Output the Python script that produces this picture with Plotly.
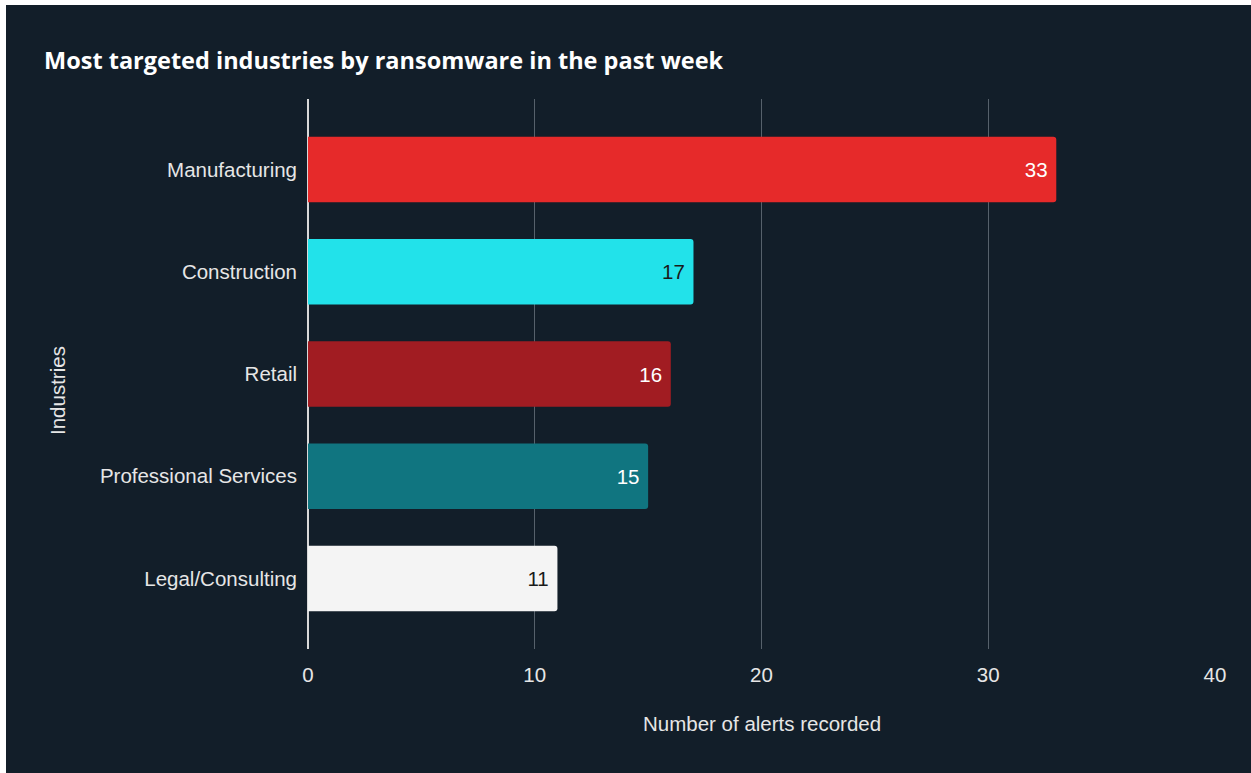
import plotly.graph_objects as go

industries = ["Manufacturing", "Construction", "Retail", "Professional Services", "Legal/Consulting"]
alerts = [33, 17, 16, 15, 11]
bar_colors = ["#E62A2A", "#22E2EA", "#A11C22", "#107580", "#F4F4F4"]
label_colors = ["#FFFFFF", "#1A1A1A", "#FFFFFF", "#FFFFFF", "#1A1A1A"]
x_ticks = [0, 10, 20, 30, 40]

W, H = 1251, 773
L, R, T, B = 308, 36, 99, 124
pw, ph = W - L - R, H - T - B
BG = "#121E29"
FS = 20.5

def px_x(p):
    return (p - L) / pw

def px_y(p):
    return (H - B - p) / ph

fig = go.Figure()
fig.add_trace(go.Bar(
    y=industries, x=alerts, orientation="h",
    marker=dict(color=bar_colors, line=dict(width=0)),
    width=0.64,
    text=[f"{v} " for v in alerts],
    textposition="inside", insidetextanchor="end",
    textfont=dict(color=label_colors, size=FS, family="Liberation Sans"),
    cliponaxis=False,
    hoverinfo="skip",
))

fig.update_layout(
    width=W, height=H,
    margin=dict(l=L, r=R, t=T, b=B, pad=0),
    paper_bgcolor="white", plot_bgcolor=BG,
    barcornerradius=3,
    showlegend=False,
    font=dict(family="Liberation Sans", color="#E6E6E6", size=FS),
    shapes=[dict(type="rect", xref="paper", yref="paper",
                 x0=px_x(6), x1=px_x(W + 2), y0=px_y(H + 2), y1=px_y(5),
                 fillcolor=BG, line=dict(width=0), layer="below")],
    annotations=[
        dict(text="<b>Most targeted industries by ransomware in the past week</b>",
             xref="paper", yref="paper", x=px_x(42), y=px_y(60),
             xanchor="left", yanchor="middle", showarrow=False,
             font=dict(family="Open Sans", size=23.5, color="#FFFFFF")),
        dict(text="Number of alerts recorded", xref="paper", yref="paper",
             x=0.5, y=px_y(724), xanchor="center", yanchor="middle", showarrow=False,
             font=dict(size=FS, color="#E6E6E6")),
        dict(text="Industries", xref="paper", yref="paper",
             x=px_x(57), y=px_y(391), textangle=-90,
             xanchor="center", yanchor="middle", showarrow=False,
             font=dict(size=FS, color="#E6E6E6")),
    ],
    xaxis=dict(range=[0, 40], tickvals=x_ticks, showgrid=True, gridcolor="#56616B",
               gridwidth=1, zeroline=True, zerolinecolor="#D8D8D8", zerolinewidth=1.5,
               showline=False, ticks="", ticklabelstandoff=11,
               tickfont=dict(size=FS, color="#E6E6E6")),
    yaxis=dict(type="category", categoryorder="array", categoryarray=industries,
               range=[4.69, -0.69], showgrid=False, zeroline=False, showline=False,
               ticks="", ticklabelstandoff=10,
               tickfont=dict(size=FS, color="#E6E6E6")),
)

fig.write_html("out.html")
